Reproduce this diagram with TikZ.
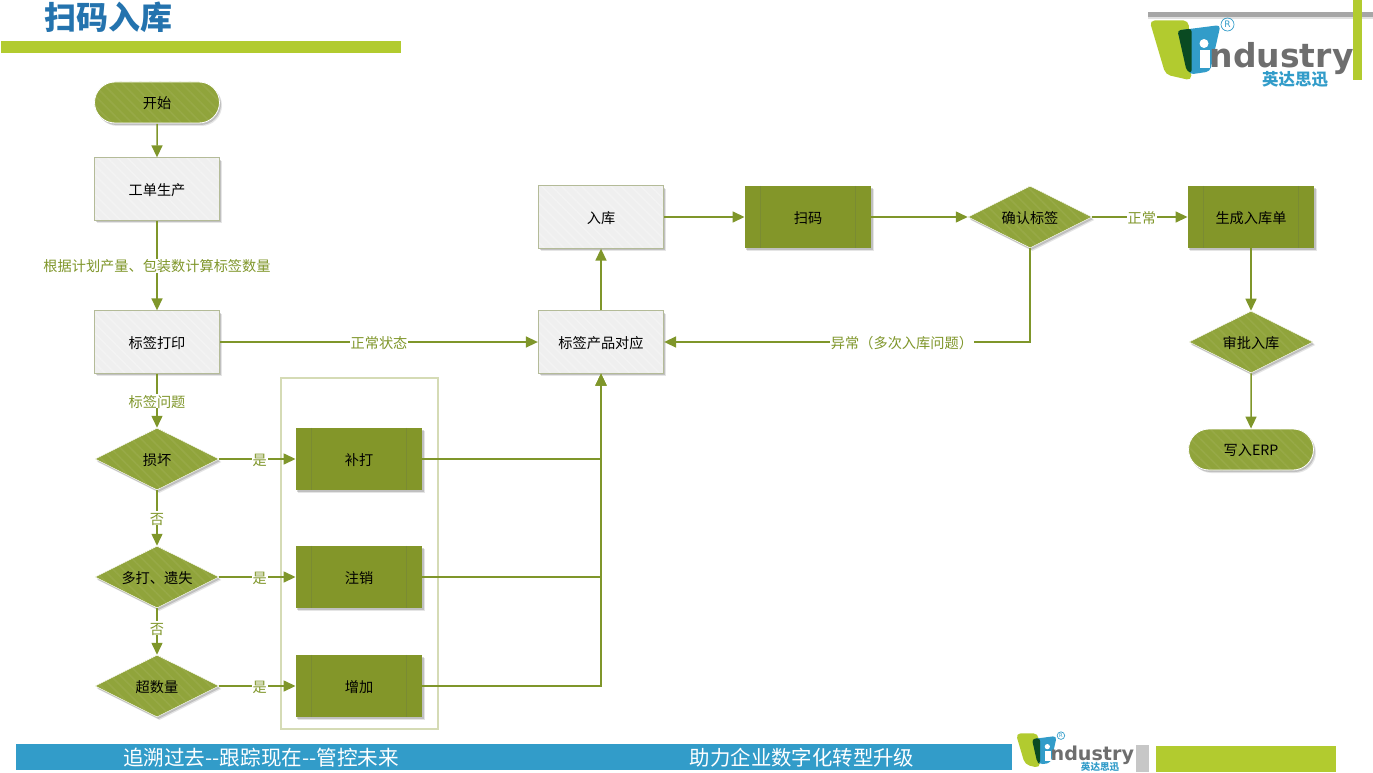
\documentclass[tikz,border=0pt]{standalone}
\usepackage{fontspec}
\setmainfont{Noto Sans CJK SC}
\newfontfamily\logofont{DejaVu Sans}
\usetikzlibrary{shapes.geometric,shapes.misc,shadows,patterns.meta,arrows.meta}
\definecolor{lime}{HTML}{B2CB2F}
\definecolor{olive}{HTML}{839629}
\definecolor{oliveL}{HTML}{90A43B}
\definecolor{oliveS}{HTML}{97A947}
\definecolor{conn}{HTML}{7F962A}
\definecolor{boxline}{HTML}{B4BB98}
\definecolor{boxfill}{HTML}{EFEFEF}
\definecolor{boxstripe}{HTML}{F3F3F3}
\definecolor{frameline}{HTML}{D5DBB5}
\definecolor{bandblue}{HTML}{329CC9}
\definecolor{titleblue}{HTML}{2473AE}
\definecolor{logogray}{HTML}{6E6E6E}
\definecolor{logodark}{HTML}{0A4A22}
\tikzset{
  softshadow/.style={drop shadow={shadow xshift=2.5pt,shadow yshift=-3pt,opacity=.1,fill=black},
    drop shadow={shadow xshift=1.5pt,shadow yshift=-2pt,opacity=.16,fill=black}},
  txt/.style={font=\fontsize{14.2}{15}\selectfont,text=black,inner sep=0pt,text height=14.4pt,text depth=1.6pt},
  stripes/.style={preaction={fill=oliveL},pattern={Lines[angle=-45,distance=7pt,line width=1.6pt]},pattern color=oliveS},
  terminal/.style={rounded rectangle,txt,softshadow,draw=white,line width=.8pt,stripes,minimum width=125pt,minimum height=41pt},
  plainbox/.style={rectangle,txt,softshadow,draw=boxline,line width=.8pt,preaction={fill=boxfill},pattern={Lines[angle=-45,distance=7pt,line width=1.6pt]},pattern color=boxstripe,minimum width=125.5pt,minimum height=62.5pt},
  subproc/.style={rectangle,txt,softshadow,fill=olive,minimum width=126.5pt,minimum height=62.5pt,
    path picture={\draw[oliveL!85!black,line width=.8pt]
      ([xshift=16pt]path picture bounding box.north west)--([xshift=16pt]path picture bounding box.south west)
      ([xshift=-16pt]path picture bounding box.north east)--([xshift=-16pt]path picture bounding box.south east);}},
  decision/.style={diamond,aspect=2,txt,softshadow,draw=white,line width=.5pt,stripes,minimum width=124pt,minimum height=62pt},
  link/.style={draw=conn,line width=1.5pt,-{Triangle[length=12pt,width=11pt]}},
  linklabel/.style={font=\fontsize{14.2}{15}\selectfont,text=conn,fill=white,inner xsep=1pt,inner ysep=0pt,text height=13.4pt,text depth=.6pt},
  logo/.pic={
    \fill[lime,rounded corners=5pt] (0,0) -- (39,0) -- (42,60) -- (16,54) -- cycle;
    \fill[bandblue,rounded corners=4pt] (28,10) -- (71,4.5) -- (60.5,51) -- (40,54) -- cycle;
    \fill[logodark,rounded corners=3pt] (28,10) -- (42,8) -- (42,53) -- (37,50) -- cycle;
    \fill[white] (54.5,23) circle (4.5);
    \fill[white] (50,30) rectangle (60,48);
    \draw[bandblue,line width=.7pt] (78,4) circle (6.5);
    \node[text=bandblue,inner sep=0pt,font=\logofont\fontsize{9}{9}\selectfont] (-reg) at (78,4) {R};
    \node[anchor=base west,text=logogray,inner sep=0pt,transform shape,font=\logofont\bfseries\fontsize{33}{33}\selectfont] (-name) at (60,47.5) {ndustry};
    \node[text=bandblue,inner sep=0pt,transform shape,font=\bfseries\fontsize{16.5}{16.5}\selectfont] (-cn) at (145.5,58.5) {英达思迅};
  }
}
\begin{document}
\begin{tikzpicture}[x=1pt,y=-1pt]
\useasboundingbox (0,0) rectangle (1373,773);
% header
\node[text=titleblue,inner sep=0pt,font=\bfseries\fontsize{32}{34}\selectfont] (title) at (108.5,17) {扫码入库};
\fill[lime] (1,41) rectangle (400.5,53);
\fill[black!35] (1148,12) rectangle (1373,17);
\fill[black!12] (1148,17) rectangle (1373,19);
\fill[lime] (1352.5,0) rectangle (1362,80);
\pic (toplogo) at (1149.5,20.5) {logo};
% footer
\fill[bandblue] (16,744) rectangle (1012,770);
\node[text=white,inner sep=0pt,font=\fontsize{20.6}{22}\selectfont] (slogana) at (261,757.5) {追溯过去-{}-跟踪现在-{}-管控未来};
\node[text=white,inner sep=0pt,font=\fontsize{20.4}{22}\selectfont] (sloganb) at (802,757.5) {助力企业数字化转型升级};
\fill[black!22] (1136,745) rectangle (1149,772);
\fill[lime] (1156,746) rectangle (1336,772);
\begin{scope}[shift={(1015.7,733.3)},scale=.58]
\pic[transform shape] (botlogo) at (0,0) {logo};
\end{scope}
% frame
\node[draw=frameline,line width=1.2pt,fill=white,minimum width=157pt,minimum height=351pt,inner sep=0pt] (frame) at (359.5,553.5) {};
% nodes
\node[terminal] (start) at (157,102.5) {开始};
\node[plainbox] (order) at (157,189) {工单生产};
\node[plainbox] (print) at (157,342) {标签打印};
\node[decision] (damage) at (157,459) {损坏};
\node[decision] (lost) at (157,577) {多打、遗失};
\node[decision] (over) at (157,686) {超数量};
\node[subproc] (reprint) at (359,459) {补打};
\node[subproc] (cancel) at (359,577) {注销};
\node[subproc] (add) at (359,686) {增加};
\node[plainbox] (match) at (601,342) {标签产品对应};
\node[plainbox] (store) at (601,217) {入库};
\node[subproc] (scan) at (808,217) {扫码};
\node[decision] (check) at (1030,217) {确认标签};
\node[subproc] (bill) at (1251,217) {生成入库单};
\node[decision] (approve) at (1251,342) {审批入库};
\node[terminal] (erp) at (1251,449.5) {写入ERP};
% connectors
\draw[link] (start) -- (order);
\draw[link] (order) -- node[linklabel] (l1) {根据计划产量、包装数计算标签数量} (print);
\draw[link] (print) -- node[linklabel] (l2) {标签问题} (damage);
\draw[link] (damage) -- node[linklabel] (l3) {否} (lost);
\draw[link] (lost) -- node[linklabel,pos=.42] (l4) {否} (over);
\draw[link] (damage) -- node[linklabel,pos=.53] (l5) {是} (reprint);
\draw[link] (lost) -- node[linklabel,pos=.53] (l6) {是} (cancel);
\draw[link] (over) -- node[linklabel,pos=.53] (l7) {是} (add);
\draw[link] (print) -- node[linklabel] (l8) {正常状态} (match);
\draw[link] (reprint) -| (match);
\draw[link] (cancel) -| (match);
\draw[link] (add) -| (match);
\draw[link] (match) -- (store);
\draw[link] (store) -- (scan);
\draw[link] (scan) -- (check);
\draw[link] (check) -- node[linklabel,pos=.52] (l9) {正常} (bill);
\draw[link] (check) |- node[linklabel,pos=.675] (l10) {异常（多次入库问题）} (match);
\draw[link] (bill) -- (approve);
\draw[link] (approve) -- (erp);
\end{tikzpicture}
\end{document}
